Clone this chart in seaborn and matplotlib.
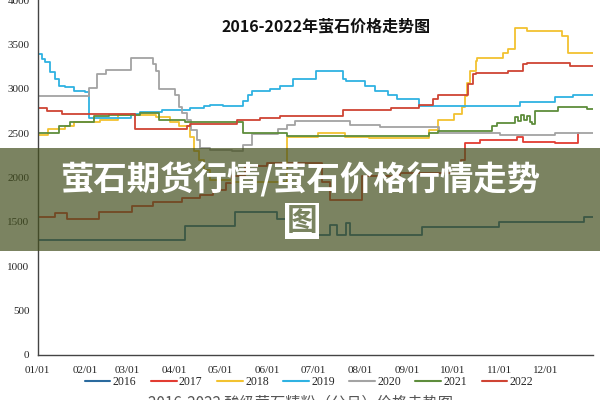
import pandas as pd
import matplotlib.pyplot as plt
import seaborn as sns
from matplotlib.patches import Rectangle
from matplotlib.lines import Line2D

# day of year (0 = 01/01) and price
days_2016 = [0, 97, 130, 157, 184, 192, 197, 203, 205, 253, 303, 359, 365]
price_2016 = [1300, 1450, 1615, 1530, 1355, 1460, 1355, 1490, 1355, 1445, 1500, 1555, 1555]

days_2017 = [0, 11, 19, 40, 62, 76, 95, 107, 115, 124, 128, 136, 151, 187, 192, 213,
             238, 278, 281, 291, 315, 319, 340, 355, 356]
price_2017 = [1555, 1605, 1532, 1615, 1682, 1720, 1770, 1806, 1863, 1942, 2013, 2126, 2164, 1950, 1750, 2020,
              2050, 2200, 2390, 2427, 2460, 2400, 2390, 2500, 2500]

days_2018 = [0, 7, 18, 24, 41, 53, 78, 87, 93, 100, 103, 106, 109, 113, 128, 164, 184, 202, 218,
             257, 263, 274, 279, 281, 282, 284, 288, 289, 306, 309, 314, 322, 345, 349, 365]
price_2018 = [2480, 2550, 2580, 2620, 2650, 2700, 2680, 2630, 2585, 2460, 2300, 2200, 2090, 1976, 1953, 2460, 2505, 2460, 2440,
              2540, 2650, 2710, 2800, 2916, 3070, 3200, 3312, 3350, 3406, 3443, 3688, 3650, 3594, 3406, 3406]

days_2019 = [0, 3, 5, 8, 11, 14, 18, 24, 31, 34, 47, 61, 67, 82, 93, 100, 109, 113, 122, 135, 138, 141,
             153, 159, 168, 183, 201, 203, 215, 222, 230, 236, 251, 317, 340, 352, 365]
price_2019 = [3390, 3340, 3297, 3184, 3105, 3026, 3015, 2970, 2958, 2670, 2665, 2710, 2736, 2758, 2766, 2785, 2811, 2822, 2804, 2860, 2935, 2973,
              2992, 3030, 3112, 3199, 3112, 3086, 3030, 2973, 2935, 2879, 2810, 2849, 2909, 2924, 2924]

days_2020 = [0, 34, 39, 45, 61, 76, 78, 80, 90, 93, 95, 98, 101, 105, 107, 113, 128, 135, 141,
             158, 164, 169, 205, 225, 264, 304, 340, 365]
price_2020 = [2920, 3005, 3161, 3210, 3342, 3274, 3199, 2992, 2935, 2800, 2730, 2653, 2540, 2427, 2337, 2315, 2296, 2371, 2495,
              2548, 2597, 2634, 2597, 2571, 2505, 2480, 2505, 2505]

days_2021 = [0, 14, 21, 37, 47, 67, 80, 97, 113, 135, 164, 257, 263, 299, 302, 314, 316, 318, 320,
             322, 324, 325, 327, 342, 361, 365]
price_2021 = [2500, 2575, 2620, 2690, 2700, 2730, 2650, 2630, 2620, 2505, 2465, 2505, 2520, 2577, 2615, 2680, 2640, 2700, 2650,
              2690, 2620, 2600, 2747, 2796, 2774, 2774]

days_2022 = [0, 6, 16, 64, 98, 100, 131, 146, 159, 186, 201, 232, 251, 260, 263, 283, 286, 288,
             309, 319, 322, 350, 365]
price_2022 = [2780, 2747, 2710, 2548, 2585, 2608, 2653, 2672, 2698, 2690, 2758, 2785, 2822, 2879, 2924, 3050, 3161, 3180,
              3199, 3274, 3293, 3255, 3255]

years = ['2016', '2017', '2018', '2019', '2020', '2021', '2022']
colors = ['#2a6a9e', '#e23c32', '#f2c230', '#2fb2e2', '#a3a3a3', '#5e8d3c', '#cf4434']
month_days = [0, 31, 59, 90, 120, 151, 181, 212, 243, 273, 304, 334]
month_labels = ['01/01', '02/01', '03/01', '04/01', '05/01', '06/01',
                '07/01', '08/01', '09/01', '10/01', '11/01', '12/01']

series = {
    '2016': (days_2016, price_2016), '2017': (days_2017, price_2017),
    '2018': (days_2018, price_2018), '2019': (days_2019, price_2019),
    '2020': (days_2020, price_2020), '2021': (days_2021, price_2021),
    '2022': (days_2022, price_2022),
}
frames = []
for y in years:
    d, p = series[y]
    frames.append(pd.DataFrame({'day': d, 'price': p, 'year': y}))
df = pd.concat(frames, ignore_index=True)

sns.set_style('white')
plt.rcParams['font.family'] = ['Liberation Serif', 'Noto Sans CJK SC']

fig = plt.figure(figsize=(6, 4), dpi=100)
ax = fig.add_axes([0.063, 0.1125, 0.925, 0.8875])

sns.lineplot(data=df, x='day', y='price', hue='year', palette=dict(zip(years, colors)),
             estimator=None, sort=True, drawstyle='steps-post', linewidth=1.3,
             legend=False, ax=ax)

ax.set_xlim(0, 365)
ax.set_ylim(0, 4000)
ax.set_xticks(month_days + [365])
ax.set_xticklabels(month_labels + [''])
ax.set_yticks(range(0, 4001, 500))
ax.tick_params(axis='x', direction='in', length=4, color='#555555', labelsize=8, pad=8)
ax.tick_params(axis='y', direction='out', length=4, color='#555555', labelsize=8, pad=2)
ax.set_xlabel('')
ax.set_ylabel('')
for s in ['top', 'right']:
    ax.spines[s].set_visible(False)
for s in ['left', 'bottom']:
    ax.spines[s].set_color('#444444')
    ax.spines[s].set_linewidth(1.0)

ax.text(0.52, 0.925, '2016-2022年萤石价格走势图', transform=ax.transAxes, ha='center', va='center',
        fontsize=11.5, fontweight='bold', color='#111111', family=['Noto Sans CJK SC'])

handles = [Line2D([], [], color=c, lw=1.5) for c in colors]
fig.legend(handles, years, loc='center', bbox_to_anchor=(0.515, 1 - 382 / 400), ncol=7,
           frameon=False, fontsize=8.5, handlelength=2.2, handletextpad=0.2, columnspacing=1.2)

fig.text(0.5, 1 - 394 / 400, '2016-2022 酸级萤石精粉（分月）价格走势图', ha='center', va='top',
         fontsize=11, color='#555555', family=['Noto Sans CJK SC'])

# overlay banner
fig.add_artist(Rectangle((0, 1 - 251 / 400), 1, 103 / 400, transform=fig.transFigure,
                         facecolor='#434f1e', alpha=0.7, edgecolor='none', zorder=10))
fig.text(0.5, 1 - 180 / 400, '萤石期货行情/萤石价格行情走势', ha='center', va='center',
         fontsize=24, fontweight='bold', color='white', family=['Noto Sans CJK SC'], zorder=11)
fig.text(302 / 600, 1 - 221 / 400, '图', ha='center', va='center', fontsize=22, fontweight='bold',
         color='#7a8460', family=['Noto Sans CJK SC'], zorder=11,
         bbox=dict(facecolor='white', edgecolor='none', pad=1))

fig.savefig('out.png', dpi=100)
